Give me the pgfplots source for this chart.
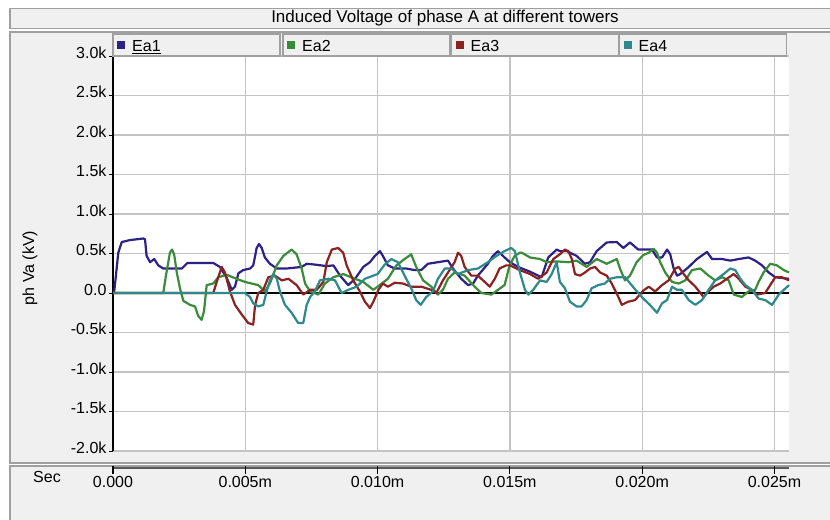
\documentclass[border=0pt]{standalone}
\usepackage{fontspec}
\setmainfont{Liberation Sans}
\usepackage{pgfplots}
\pgfplotsset{compat=1.18}
\definecolor{panel}{HTML}{F0F0F0}
\definecolor{pborder}{HTML}{A0A0A0}
\definecolor{gridc}{HTML}{C4C4C4}
\definecolor{cEa1}{HTML}{2E2185}
\definecolor{cEa2}{HTML}{3A8B3A}
\definecolor{cEa3}{HTML}{8A2222}
\definecolor{cEa4}{HTML}{2E8A8A}
\newcommand{\pfont}{\fontsize{16bp}{19bp}\selectfont}
\begin{document}
\begin{tikzpicture}[x=1bp,y=1bp,font=\pfont]
\useasboundingbox (0,0) rectangle (830,-520);
\fill[white] (0,0) rectangle (830,-520);
% title panel
\filldraw[fill=panel,draw=pborder,line width=1.5bp] (10,-8.5) rectangle (845,-28.5);
\node[font=\fontsize{17bp}{20bp}\selectfont] at (445,-18.5) {Induced Voltage of phase A at different towers};
% plot panel
\filldraw[fill=panel,draw=pborder,line width=1.5bp] (10,-31.8) rectangle (845,-463);
% x-axis panel
\filldraw[fill=panel,draw=pborder,line width=1.5bp] (10,-466) rectangle (845,-535);
\begin{axis}[
  at={(113bp,-451bp)}, anchor=south west,
  scale only axis, width=676bp, height=395bp,
  xmin=0, xmax=25.55, ymin=-2, ymax=3,
  clip=false,
  axis background/.style={fill=white},
  axis y line*=left, axis x line*=bottom,
  x axis line style={draw=none},
  y axis line style={black,line width=1.2bp},
  xtick={0,5,10,15,20,25},
  xticklabels={0.000,0.005m,0.010m,0.015m,0.020m,0.025m},
  ytick={-2,-1.5,-1,-0.5,0,0.5,1,1.5,2,2.5,3},
  yticklabels={-2.0k,-1.5k,-1.0k,-0.5k,0.0,0.5k,1.0k,1.5k,2.0k,2.5k,3.0k},
  grid=major, major grid style={gridc,line width=1.3bp},
  xtick style={draw=none},
  ytick style={black,line width=1bp},
  tick align=outside, major tick length=4bp,
  ticklabel style={font=\pfont},
  yticklabel style={anchor=base east,yshift=-2bp,xshift=1bp},
  xticklabel style={anchor=base,yshift=-32bp},
]
\addplot[black,line width=1.2bp,forget plot] coordinates {(0,0) (25.55,0)};
% Ea1
\addplot[cEa1,line width=2.2bp,line join=round] coordinates {
(0,0) (0.04,0.0) (0.11,0.22) (0.20,0.51) (0.33,0.645) (0.64,0.67) (1.15,0.69) (1.21,0.68) (1.27,0.47) (1.40,0.39) (1.56,0.43) (1.71,0.35) (1.90,0.31) (2.60,0.31) (2.81,0.38) (3.79,0.38) (4.04,0.33) (4.30,0.19) (4.49,0.04) (4.61,0.08) (4.74,0.25) (4.92,0.29) (5.18,0.31) (5.30,0.35) (5.43,0.57) (5.52,0.62) (5.62,0.57) (5.74,0.45) (5.93,0.37) (6.19,0.31) (6.56,0.31) (7.13,0.33) (7.32,0.37) (7.63,0.36) (8.08,0.34) (8.33,0.35) (8.58,0.22) (8.89,0.10) (9.15,0.18) (9.46,0.33) (9.71,0.39) (9.90,0.47) (10.09,0.53) (10.20,0.47) (10.39,0.35) (10.65,0.31) (11.08,0.31) (11.40,0.29) (11.65,0.29) (11.90,0.37) (12.28,0.39) (12.66,0.41) (12.85,0.31) (13.16,0.18) (13.42,0.10) (13.61,0.12) (13.79,0.22) (14.17,0.37) (14.36,0.47) (14.55,0.53) (14.80,0.45) (15.00,0.39) (15.31,0.33) (15.76,0.27) (16.07,0.22) (16.20,0.20) (16.33,0.33) (16.45,0.45) (16.77,0.55) (16.89,0.53) (17.15,0.53) (17.52,0.47) (17.84,0.37) (18.03,0.39) (18.28,0.53) (18.66,0.64) (19.04,0.645) (19.29,0.57) (19.54,0.64) (19.85,0.55) (20.37,0.55) (20.56,0.45) (20.75,0.45) (20.94,0.55) (21.06,0.49) (21.19,0.31) (21.32,0.22) (21.44,0.24) (21.76,0.33) (22.07,0.43) (22.45,0.52) (22.64,0.43) (23.02,0.43) (23.33,0.41) (23.65,0.43) (24.02,0.45) (24.27,0.41) (24.53,0.35) (24.78,0.26) (25.03,0.20) (25.55,0.18)
};
% Ea2
\addplot[cEa2,line width=2.2bp,line join=round] coordinates {
(0,0) (1.90,0) (2.00,0.22) (2.09,0.39) (2.15,0.51) (2.23,0.55) (2.31,0.49) (2.41,0.26) (2.53,0.06) (2.66,-0.10) (2.91,-0.15) (3.10,-0.17) (3.22,-0.29) (3.35,-0.34) (3.44,-0.23) (3.54,0.10) (3.79,0.12) (3.98,0.20) (4.30,0.23) (4.67,0.18) (4.99,0.14) (5.49,0.10) (5.74,0.02) (5.93,0.12) (6.19,0.35) (6.44,0.47) (6.75,0.55) (6.94,0.49) (7.13,0.31) (7.26,0.12) (7.45,0.02) (7.76,-0.02) (8.01,0.12) (8.33,0.20) (8.70,0.24) (9.15,0.18) (9.46,0.14) (9.84,0.04) (10.0,0.08) (10.39,0.18) (10.71,0.35) (11.02,0.43) (11.27,0.49) (11.46,0.33) (11.72,0.16) (12.03,0.08) (12.28,-0.02) (12.47,0.04) (12.66,0.18) (12.91,0.26) (13.29,0.22) (13.67,0.08) (13.92,0.0) (14.30,-0.02) (14.55,0.04) (14.80,0.10) (14.99,0.35) (15.18,0.47) (15.38,0.51) (15.45,0.51) (15.76,0.45) (16.14,0.43) (16.39,0.39) (16.77,0.40) (17.21,0.39) (17.52,0.41) (17.90,0.33) (18.28,0.43) (18.66,0.37) (19.04,0.43) (19.16,0.31) (19.35,0.16) (19.54,0.22) (19.79,0.39) (20.04,0.48) (20.25,0.51) (20.43,0.56) (20.56,0.51) (20.68,0.39) (20.87,0.26) (21.13,0.14) (21.38,0.12) (21.63,0.16) (21.88,0.29) (22.20,0.31) (22.51,0.22) (22.76,0.16) (23.02,0.20) (23.27,0.16) (23.46,-0.02) (23.77,-0.05) (24.02,0.02) (24.27,0.04) (24.40,0.14) (24.59,0.26) (24.84,0.37) (25.09,0.35) (25.35,0.29) (25.55,0.26)
};
% Ea3
\addplot[cEa3,line width=2.2bp,line join=round] coordinates {
(0,0) (3.79,0) (3.92,0.14) (4.11,0.33) (4.23,0.26) (4.42,0.02) (4.61,-0.15) (4.86,-0.27) (5.11,-0.38) (5.30,-0.40) (5.37,-0.15) (5.49,0) (5.68,0.04) (5.87,0.20) (6.12,0.22) (6.38,0.16) (6.63,0.18) (6.94,0.10) (7.19,-0.02) (7.45,0.04) (7.70,0.04) (7.95,0.14) (8.08,0.39) (8.27,0.55) (8.51,0.57) (8.70,0.51) (8.83,0.35) (9.08,0.16) (9.33,0.02) (9.52,-0.11) (9.71,-0.19) (9.84,-0.11) (10.03,0.04) (10.20,0.12) (10.39,0.08) (10.65,0.13) (10.96,0.12) (11.27,0.08) (11.65,0.08) (12.03,0.04) (12.22,0) (12.47,0.16) (12.72,0.29) (12.91,0.39) (13.04,0.51) (13.16,0.47) (13.29,0.33) (13.54,0.22) (13.79,0.22) (14.05,0.14) (14.24,0.08) (14.43,0.18) (14.61,0.31) (14.86,0.35) (15.0,0.35) (15.38,0.29) (15.76,0.24) (16.07,0.18) (16.39,0.26) (16.64,0.43) (16.89,0.49) (17.08,0.55) (17.21,0.53) (17.34,0.43) (17.46,0.24) (17.65,0.22) (17.84,0.26) (18.03,0.31) (18.22,0.33) (18.41,0.26) (18.66,0.22) (18.85,0.12) (19.10,-0.05) (19.23,-0.15) (19.47,-0.11) (19.73,-0.09) (20.04,0.03) (20.25,0.08) (20.49,0.02) (20.75,0.10) (21.00,0.16) (21.25,0.31) (21.38,0.33) (21.57,0.24) (21.76,0.16) (22.01,0.08) (22.32,-0.05) (22.51,0.02) (22.70,0.08) (22.95,0.12) (23.20,0.18) (23.46,0.24) (23.65,0.18) (23.90,0.08) (24.15,0.04) (24.34,-0.02) (24.65,0) (24.84,0.10) (25.03,0.20) (25.28,0.20) (25.55,0.16)
};
% Ea4
\addplot[cEa4,line width=2.2bp,line join=round] coordinates {
(0,0) (4.99,0) (5.18,-0.05) (5.30,-0.13) (5.49,-0.17) (5.68,-0.15) (5.81,0.02) (5.93,0.16) (6.06,0.24) (6.19,0.18) (6.31,0.02) (6.50,-0.15) (6.75,-0.25) (7.00,-0.38) (7.19,-0.38) (7.32,-0.15) (7.45,-0.05) (7.63,0.02) (7.82,0.16) (8.14,0.18) (8.39,0.16) (8.64,0) (8.89,0.04) (9.21,0.08) (9.52,0.18) (9.84,0.22) (10.0,0.24) (10.27,0.36) (10.52,0.43) (10.77,0.39) (11.02,0.22) (11.27,0.06) (11.46,-0.09) (11.63,-0.15) (11.84,-0.05) (12.09,0.02) (12.28,0.18) (12.54,0.31) (12.79,0.31) (13.04,0.24) (13.42,0.29) (13.79,0.31) (14.17,0.39) (14.49,0.47) (14.80,0.53) (15.05,0.57) (15.19,0.53) (15.38,0.26) (15.57,0.04) (15.70,-0.02) (15.88,0.04) (16.14,0.16) (16.39,0.14) (16.58,0.24) (16.77,0.39) (16.89,0.14) (17.08,0.06) (17.27,-0.11) (17.52,-0.17) (17.71,-0.17) (17.90,-0.09) (18.09,0.06) (18.34,0.10) (18.59,0.12) (18.78,0.18) (19.04,0.20) (19.35,0.20) (19.60,0.10) (19.85,0) (20.04,-0.07) (20.29,-0.15) (20.56,-0.25) (20.75,-0.13) (20.94,-0.09) (21.13,0.08) (21.32,0.04) (21.50,0.04) (21.76,-0.09) (22.01,-0.15) (22.26,-0.09) (22.51,0.04) (22.76,0.16) (23.08,0.24) (23.33,0.31) (23.52,0.29) (23.71,0.18) (23.90,0.10) (24.15,0.04) (24.40,-0.07) (24.65,-0.09) (24.91,-0.15) (25.16,-0.02) (25.55,0.10)
};
% x-axis bar and ticks in lower panel
\draw[black!65,line width=2.5bp] (axis cs:0,-2.215) -- (axis cs:25.55,-2.215);
\pgfplotsinvokeforeach{0,5,10,15,20,25}{
  \draw[black,line width=1.2bp] (axis cs:#1,-2.19) -- ++(0bp,-8bp);
}
\end{axis}
% y label and Sec
\node[rotate=90] at (30,-268) {ph Va (kV)};
\node at (47,-477) {Sec};
% legend boxes
\foreach \L/\c/\t in {113/cEa1/Ea1,283/cEa2/Ea2,451.5/cEa3/Ea3,619.5/cEa4/Ea4}{
  \filldraw[fill=panel,draw=pborder,line width=1.5bp] (\L,-34) rectangle ++(167,-22);
  \fill[\c] (\L+4,-41) rectangle ++(8,-8);
  \node[anchor=base west,inner sep=0pt] at (\L+19,-51.5) {\t};
}
\draw[black,line width=1bp] (132,-53.8) -- (161,-53.8);
\end{tikzpicture}
\end{document}
